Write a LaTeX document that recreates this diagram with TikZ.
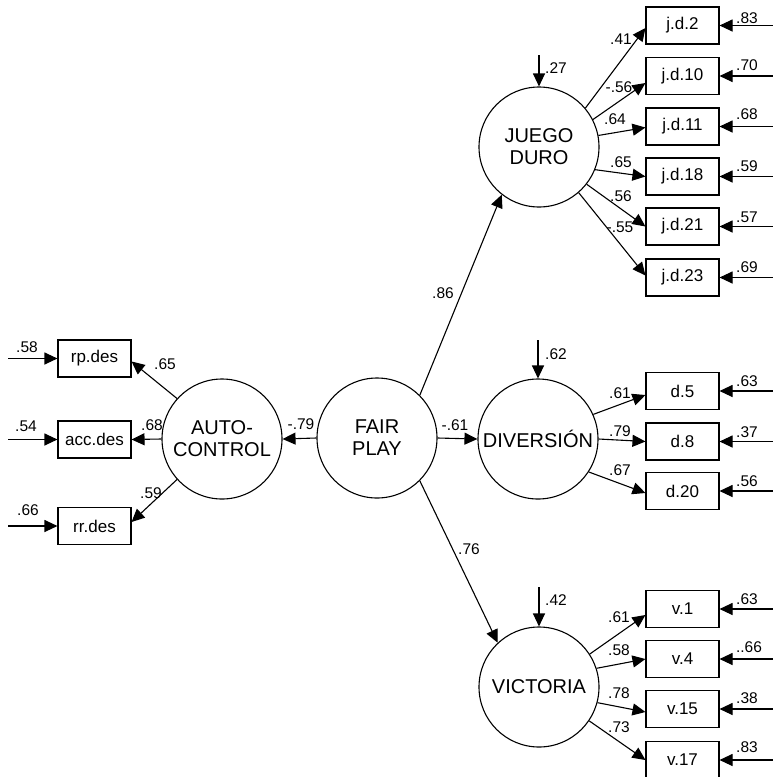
\documentclass[tikz,border=0pt]{standalone}
\usepackage{fontspec}
\setmainfont{Liberation Sans}
\usetikzlibrary{arrows.meta,calc}
\begin{document}
\begin{tikzpicture}[x=1pt,y=-1pt,
  lat/.style={circle,draw,line width=1.1pt,minimum size=120pt,inner sep=0pt,align=center,font=\fontsize{20}{22}\selectfont},
  obs/.style={rectangle,draw,line width=1.1pt,minimum width=73pt,minimum height=37pt,inner sep=0pt,font=\fontsize{17}{17}\selectfont},
  arr/.style={line width=1.1pt,-{Triangle[length=13pt,width=12pt]}},
  coef/.style={font=\fontsize{15.5}{15.5}\selectfont,inner sep=0pt}]
\useasboundingbox (0,0) rectangle (773,777);

% latent variables
\node[lat] (fp) at (377,438) {FAIR\\PLAY};
\node[lat] (ac) at (222,439) {AUTO-\\CONTROL};
\node[lat] (jd) at (539,147) {JUEGO\\DURO};
\node[lat] (dv) at (538,439) {DIVERSIÓN};
\node[lat] (vc) at (539,687) {VICTORIA};

% observed variables
\node[obs] (rp) at (94.5,358.5) {rp.des};
\node[obs] (acc) at (94.5,439.5) {acc.des};
\node[obs] (rr) at (94.5,526) {rr.des};
\node[obs] (jd2) at (682.5,25.5) {j.d.2};
\node[obs] (jd10) at (682.5,76) {j.d.10};
\node[obs] (jd11) at (682.5,126.5) {j.d.11};
\node[obs] (jd18) at (682.5,176.5) {j.d.18};
\node[obs] (jd21) at (682.5,226.5) {j.d.21};
\node[obs] (jd23) at (682.5,277.5) {j.d.23};
\node[obs] (d5) at (682.5,391) {d.5};
\node[obs] (d8) at (682.5,441.5) {d.8};
\node[obs] (d20) at (682.5,491) {d.20};
\node[obs] (v1) at (682.5,609) {v.1};
\node[obs] (v4) at (682.5,659) {v.4};
\node[obs] (v15) at (682.5,709) {v.15};
\node[obs] (v17) at (682.5,760) {v.17};

% structural paths
\draw[arr] (fp.west) -- (ac.east);
\draw[arr] (fp.east) -- (dv.west);
\draw[arr] (fp.45) -- (jd.232);
\draw[arr] (fp.-45) -- (vc.133);

% auto-control indicators
\draw[arr] (ac.138) -- ($(rp.east)+(0,3)$);
\draw[arr] (ac.west) -- (acc.east);
\draw[arr] (ac.222) -- ($(rr.east)+(0,-4)$);

% juego duro indicators
\draw[arr] (jd.40) -- ($(jd2.west)+(0,2.5)$);
\draw[arr] (jd.27) -- ($(jd10.west)+(0,7)$);
\draw[arr] (jd.11) -- ($(jd11.west)+(0,1)$);
\draw[arr] (jd.-22) -- (jd18.west);
\draw[arr] (jd.-38) -- (jd21.west);
\draw[arr] (jd.-49) -- ($(jd23.west)+(0,-2)$);

% diversion indicators
\draw[arr] (dv.24) -- ($(d5.west)+(0,4)$);
\draw[arr] (dv.0) -- (d8.west);
\draw[arr] (dv.-33) -- ($(d20.west)+(0,2)$);

% victoria indicators
\draw[arr] (vc.33) -- ($(v1.west)+(0,6)$);
\draw[arr] (vc.18) -- (v4.west);
\draw[arr] (vc.-15) -- ($(v15.west)+(0,3)$);
\draw[arr] (vc.-34) -- (v17.west);

% disturbances
\coordinate (zjd) at (539,55);
\coordinate (zdv) at (538,340);
\coordinate (zvc) at (539,587);
\draw[arr] (zjd) -- (jd.north);
\draw[arr] (zdv) -- (dv.north);
\draw[arr] (zvc) -- (vc.north);

% error terms, right
\foreach \b in {jd2,jd10,jd11,jd18,jd21,jd23,d5,d8,d20,v1,v4,v15,v17}{
  \coordinate (e\b) at ($(\b.east)+(54,0)$);
  \draw[arr] (e\b) -- (\b.east);
}
% error terms, left
\foreach \b in {rp,acc,rr}{
  \coordinate (e\b) at ($(\b.west)+(-49,0)$);
  \draw[arr] (e\b) -- (\b.west);
}

% coefficients
\node[coef] (c1) at (301,424) {-.79};
\node[coef] (c2) at (455,425) {-.61};
\node[coef] (c3) at (443,293) {.86};
\node[coef] (c4) at (469,549) {.76};
\node[coef] (c5) at (556,68) {.27};
\node[coef] (c6) at (556,354) {.62};
\node[coef] (c7) at (556,600) {.42};

\node[coef] (c8) at (165,364) {.65};
\node[coef] (c9) at (152,425) {.68};
\node[coef] (c10) at (151,493) {.59};
\node[coef] (c11) at (27,347) {.58};
\node[coef] (c12) at (26,426) {.54};
\node[coef] (c13) at (28,510) {.66};

\node[coef] (c14) at (621,39) {.41};
\node[coef] (c15) at (619,87) {-.56};
\node[coef] (c16) at (615,119) {.64};
\node[coef] (c17) at (621,162) {.65};
\node[coef] (c18) at (621,196) {.56};
\node[coef] (c19) at (620,227) {-.55};

\node[coef] (c20) at (747,18) {.83};
\node[coef] (c21) at (747,65) {.70};
\node[coef] (c22) at (747,114) {.68};
\node[coef] (c23) at (747,166) {.59};
\node[coef] (c24) at (747,217) {.57};
\node[coef] (c25) at (747,267) {.69};

\node[coef] (c26) at (620,393) {.61};
\node[coef] (c27) at (620,431) {.79};
\node[coef] (c28) at (620,470) {.67};
\node[coef] (c29) at (747,381) {.63};
\node[coef] (c30) at (747,432) {.37};
\node[coef] (c31) at (747,481) {.56};

\node[coef] (c32) at (619,617) {.61};
\node[coef] (c33) at (619,650) {.58};
\node[coef] (c34) at (619,693) {.78};
\node[coef] (c35) at (619,727) {.73};
\node[coef] (c36) at (747,599) {.63};
\node[coef] (c37) at (749,647) {..66};
\node[coef] (c38) at (747,698) {.38};
\node[coef] (c39) at (747,747) {.83};
\end{tikzpicture}
\end{document}
